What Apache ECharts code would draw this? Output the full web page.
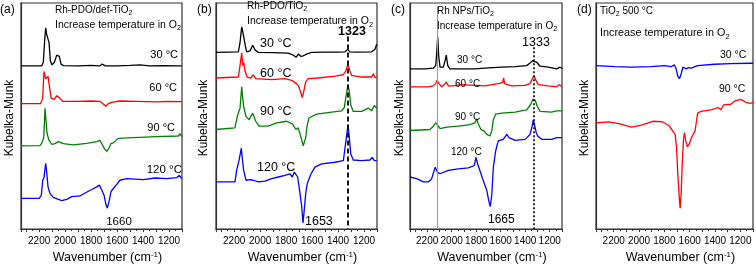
<!DOCTYPE html>
<html><head><meta charset="utf-8">
<script src="https://cdn.jsdelivr.net/npm/echarts@6/dist/echarts.min.js"></script>
<style>html,body{margin:0;padding:0;background:#fff}#c{width:756px;height:269px}</style>
</head><body><div id="c"></div>
<script>
// ---- tick labels ----
const xTickLabels = [2200, 2000, 1800, 1600, 1400, 1200];
const xMin = 1100, xMax = 2340;

// ---- panel (a): Rh-PDO/def-TiO2 ----
const a30 = [[2340,166],[2181,166],[2168,169.7],[2157,193],[2150,204.7],[2142,198],[2132,196.3],[2124,189.7],[2114,171.3],[2101,167],[2083,169.7],[2065,177],[2055,178.7],[2045,175.7],[2032,168],[2014,166.3],[1900,166],[1800,166.5],[1732,166],[1716,168],[1706,167.7],[1691,166],[1600,166],[1500,166.5],[1423,167],[1350,166],[1250,166.3],[1140,166],[1130,168],[1122,166],[1112,167.5],[1102,166]];
const a60 = [[2340,127.7],[2188,127.7],[2173,133],[2163,160.3],[2150,153],[2132,155.3],[2119,143],[2107,133],[2083,132],[2065,135.7],[2055,137.3],[2040,133],[2019,130],[1900,130],[1800,130.3],[1732,130],[1716,128.3],[1708,129.7],[1685,125],[1667,127.7],[1644,129],[1578,130.3],[1450,130],[1300,129.5],[1200,130],[1102,129.7]];
const a90 = [[2340,84.7],[2194,85],[2178,88],[2165,93],[2155,123],[2147,121],[2140,98],[2127,91.3],[2104,86.3],[2078,87],[2053,89],[2014,87],[1937,85.7],[1834,87.3],[1757,89],[1732,90.3],[1716,86.3],[1695,81.3],[1680,79],[1662,82.3],[1647,87],[1629,87.7],[1616,89],[1591,92.3],[1475,93],[1295,94],[1128,94.7],[1115,97],[1102,94]];
const a120 = [[2340,31.3],[2199,31.3],[2183,34.7],[2173,49.7],[2163,52.3],[2150,67],[2142,58],[2132,43],[2117,36.3],[2091,32.3],[2027,29],[1988,30.3],[1949,33],[1886,33.7],[1829,38],[1795,40.3],[1757,43],[1737,44.7],[1718,39.7],[1701,34.7],[1685,24.7],[1675,21.3],[1662,28],[1647,38],[1629,41.3],[1616,39.7],[1598,46.3],[1578,49.7],[1526,51.3],[1398,50.3],[1308,52],[1218,51.3],[1141,52.3],[1121,54.7],[1102,51.3]];

// ---- panel (b): Rh-PDO/TiO2 ----
const b30 = [[2340,179.7],[2168,180.3],[2155,189.7],[2142,205.7],[2132,199.7],[2124,201.3],[2114,186.3],[2104,180.3],[2078,181.3],[2057,187],[2040,182.3],[2014,179.7],[1900,179.5],[1783,179],[1745,177],[1724,174.7],[1706,178],[1685,175.7],[1668,176.3],[1642,178],[1604,179.7],[1500,180],[1400,180],[1346,180.3],[1326,183],[1310,180.3],[1250,180],[1141,180.3],[1116,183],[1102,188]];
const b60 = [[2340,153.7],[2168,154.7],[2155,166.3],[2142,179],[2134,166.3],[2127,169.7],[2117,161.3],[2101,154.7],[2073,153.7],[2053,157],[2034,153],[1911,152],[1809,153],[1757,151.3],[1719,148],[1701,144.7],[1685,138],[1675,133.7],[1665,139.7],[1649,149.7],[1629,153],[1552,153.7],[1423,155.7],[1359,157],[1339,161.3],[1323,168],[1310,161.3],[1295,156.3],[1218,154.7],[1141,154.7],[1128,158],[1115,154],[1102,154.7]];
const b90 = [[2340,101.3],[2194,103],[2173,116.3],[2155,123],[2147,136.3],[2142,144.7],[2134,133],[2127,124.7],[2109,114.7],[2086,111.3],[2057,118],[2034,109.7],[2009,104.7],[1937,104.7],[1873,108],[1796,109.7],[1752,107],[1724,101.3],[1706,103],[1685,93],[1668,84.7],[1649,93],[1639,104.7],[1624,113],[1565,117],[1449,119],[1372,120.3],[1352,123.7],[1339,134.7],[1323,147],[1313,139.7],[1302,126.3],[1283,119.7],[1218,119.7],[1167,123],[1141,120.3],[1121,125.7],[1102,123]];
const b120 = [[2340,48],[2194,48],[2181,59.7],[2163,69.7],[2153,71.3],[2145,82.3],[2137,71.3],[2127,59.7],[2109,49.7],[2078,50.3],[2053,49.7],[2014,48],[1963,48.7],[1911,51.3],[1860,53],[1809,54.7],[1770,56.3],[1752,53],[1737,58],[1726,59.7],[1711,53],[1693,36.3],[1680,23],[1670,6.3],[1660,19.7],[1649,36.3],[1637,46.3],[1624,48],[1608,56.3],[1578,63],[1526,66.3],[1423,68],[1359,69.7],[1346,83],[1333,96.3],[1323,106],[1313,93],[1302,76.3],[1283,70.3],[1218,69.7],[1154,70.3],[1136,73],[1121,69.7],[1102,69.7]];

// ---- panel (c): Rh NPs/TiO2 ----
const c30 = [[2340,163],[2218,163],[2150,163.7],[2130,166.3],[2122,179.7],[2114,195.7],[2106,176.3],[2095,164.7],[2068,164.7],[2054,171.3],[2044,177],[2032,166.3],[2014,163],[1810,163],[1701,164],[1592,164.7],[1483,165.3],[1388,166.3],[1361,169],[1339,171.3],[1326,173],[1306,169.7],[1279,165.7],[1212,164.7],[1143,163],[1116,164.7],[1100,163.5]];
const c60 = [[2340,144.7],[2191,144.7],[2150,145.7],[2130,148],[2120,151.3],[2103,148],[2081,144.7],[2060,147],[2044,149.7],[2027,145.7],[1987,145.7],[1918,147],[1810,146.3],[1728,145.7],[1620,148],[1584,149],[1576,153.7],[1568,148],[1510,145.7],[1402,146.3],[1361,148],[1342,153],[1328,155.7],[1312,151.3],[1293,147],[1212,145.7],[1143,144.7],[1124,147],[1100,144.7]];
const c90 = [[2340,100.3],[2177,101.3],[2150,104.7],[2130,108],[2114,105.7],[2095,102.3],[2041,103.7],[1946,104.7],[1851,106.3],[1810,108],[1796,112],[1783,107],[1761,101.3],[1734,99.7],[1714,96.3],[1687,94.7],[1673,99.7],[1660,111.3],[1641,117],[1592,118],[1483,119],[1388,121.3],[1355,127],[1337,132],[1320,131.3],[1301,124.7],[1279,119.7],[1184,119],[1143,120.3],[1100,120.3]];
const c120 = [[2340,53],[2286,51.3],[2231,48],[2191,48],[2163,51.3],[2147,58],[2134,63],[2117,58],[2095,56.3],[2027,59.7],[1946,61.3],[1864,62.3],[1815,64.7],[1802,73],[1788,66.3],[1761,56.3],[1734,46.3],[1714,39.7],[1696,28],[1685,23],[1673,34.7],[1660,63],[1641,79.7],[1620,89.7],[1579,91.3],[1551,96.3],[1532,93],[1483,90.3],[1402,91.3],[1361,96.3],[1345,104],[1334,111],[1324,106],[1310,98],[1298,94.7],[1266,91.3],[1184,91.3],[1143,93],[1100,93]];

// ---- panel (d): TiO2 500 °C ----
const d30 = [[2340,166.3],[2191,165.3],[2060,164.7],[1903,165.3],[1798,166.3],[1746,165.3],[1720,167],[1707,163],[1694,155.7],[1681,153],[1667,158],[1654,164.7],[1641,163],[1628,163],[1610,164.3],[1589,163.7],[1537,166.3],[1406,167.7],[1275,168.3],[1118,168.7],[1100,168.7]];
const d90 = [[2340,108],[2243,109],[2152,107],[2060,103.7],[1981,105.7],[1890,109.7],[1812,109],[1767,105.7],[1741,101.3],[1733,101.3],[1715,96.3],[1704,83],[1694,56.3],[1683,33],[1675,21.3],[1667,36.3],[1660,63],[1649,91.3],[1641,98],[1631,89.7],[1618,83.7],[1602,87],[1584,93.7],[1558,99.7],[1537,118],[1511,119.7],[1432,121.3],[1375,123.7],[1354,121.3],[1333,126.3],[1275,127],[1244,130.3],[1197,132],[1157,129],[1118,128],[1100,129]];

// ---- reference lines ----
const bPeakLine = 1323;
const cPeakLine = 1333;
const cGrayLine = 2114;

const FF = '"Liberation Sans", Arial, Helvetica, sans-serif';
const grids = [
  {left: 21, top: 3, width: 161, height: 230},
  {left: 216, top: 3, width: 161, height: 230},
  {left: 410, top: 3, width: 152, height: 230},
  {left: 596, top: 3, width: 158, height: 230}
];
const xAxes = grids.map((g, i) => ({
  gridIndex: i, type: 'value', inverse: true, min: xMin, max: xMax, interval: 100,
  name: 'Wavenumber (cm{sup|-1})', nameLocation: 'middle', nameGap: 19,
  nameTextStyle: {fontFamily: FF, fontSize: 12.5, color: '#000', padding: [0, 0, 0, 12],
    rich: {sup: {fontFamily: FF, fontSize: 8, lineHeight: 7, verticalAlign: 'top', color: '#000'}}},
  axisLine: {show: true, lineStyle: {color: '#333', width: 1.2}},
  axisTick: {show: true, inside: false, length: 3, lineStyle: {color: '#333'}},
  minorTick: {show: true, splitNumber: 2, length: 2, lineStyle: {color: '#333'}},
  splitLine: {show: false}, minorSplitLine: {show: false},
  axisLabel: {fontFamily: FF, fontSize: 10, color: '#000', margin: 7,
    formatter: v => xTickLabels.indexOf(v) >= 0 ? String(v) : ''}
}));
const yAxes = grids.map((g, i) => ({
  gridIndex: i, type: 'value', min: 0, max: 230,
  axisLine: {show: true, lineStyle: {color: '#333', width: 1.2}},
  axisTick: {show: false}, axisLabel: {show: false}, splitLine: {show: false}
}));

function line(gi, data, color, extra) {
  return Object.assign({type: 'line', xAxisIndex: gi, yAxisIndex: gi, data: data,
    showSymbol: false, symbol: 'none', animation: false, silent: true,
    lineStyle: {color: color, width: 1.3}, z: 3}, extra || {});
}
function vline(x, y0, y1, style) {
  return {silent: true, symbol: ['none', 'none'], label: {show: false}, animation: false,
    lineStyle: style, data: [[{coord: [x, y0]}, {coord: [x, y1]}]]};
}

const series = [
  line(0, a30, '#000000'), line(0, a60, '#ff0000'), line(0, a90, '#008000'), line(0, a120, '#0000ff'),
  line(1, b30, '#000000', {markLine: vline(bPeakLine, 196, 0, {color: '#000', type: [5, 3], width: 1.8})}),
  line(1, b60, '#ff0000'), line(1, b90, '#008000'), line(1, b120, '#0000ff'),
  line(2, c30, '#000000', {markLine: vline(cPeakLine, 185, 0, {color: '#000', type: [2, 2], width: 1.6})}),
  line(2, c60, '#ff0000', {markLine: vline(cGrayLine, 226, 0, {color: '#999', type: 'solid', width: 1})}),
  line(2, c90, '#008000'), line(2, c120, '#0000ff'),
  line(3, d30, '#0000ff'), line(3, d90, '#ff0000')
];

function T(x, y, text, size, align, bold, rot) {
  return {type: 'text', x: x, y: y, z: 10, silent: true, rotation: rot || 0,
    style: {text: text, fontFamily: FF, fontSize: size, fontWeight: bold ? 'bold' : 'normal',
      fill: '#000', align: align || 'left', textAlign: align || 'left',
      verticalAlign: 'middle', textVerticalAlign: 'middle', lineHeight: size * 1.3,
      rich: {s: {fontFamily: FF, fontSize: size * 0.7, lineHeight: size * 0.6, verticalAlign: 'bottom', fill: '#000'}}}};
}
const graphics = [
  T(0, 10, '(a)', 12), T(197, 10, '(b)', 12), T(391, 10, '(c)', 12), T(577, 10, '(d)', 12),
  T(9.5, 118, 'Kubelka-Munk', 12, 'center', false, Math.PI / 2),
  T(204, 118, 'Kubelka-Munk', 12, 'center', false, Math.PI / 2),
  T(400, 118, 'Kubelka-Munk', 12, 'center', false, Math.PI / 2),
  T(585, 118, 'Kubelka-Munk', 12, 'center', false, Math.PI / 2),
  // (a)
  T(55, 10, 'Rh-PDO/def-TiO{s|2}', 10), T(55, 25, 'Increase temperature in O{s|2}', 10.5),
  T(178, 55, '30 °C', 11, 'right'), T(177, 88, '60 °C', 11, 'right'), T(175, 128, '90 °C', 11, 'right'),
  T(182, 170, '120 °C', 11.5, 'right'), T(119, 222, '1660', 11.5, 'center'),
  // (b)
  T(247, 6.5, 'Rh-PDO/TiO{s|2}', 10), T(247, 21.5, 'Increase temperature in O{s|2}', 10.5),
  T(352, 32, '1323', 12.5, 'center', true),
  T(260, 43.5, '30 °C', 12.5), T(260, 73.5, '60 °C', 12.5), T(260, 111.5, '90 °C', 12.5),
  T(257, 167.5, '120 °C', 12.5), T(305, 222, '1653', 12.5),
  // (c)
  T(437, 11.5, 'Rh NPs/TiO{s|2}', 10), T(437, 26.5, 'Increase temperature in O{s|2}', 10),
  T(536, 42.5, '1333', 12.5, 'center'),
  T(457, 60, '30 °C', 10), T(455, 84, '60 °C', 10), T(455, 117.5, '90 °C', 10),
  T(451, 152.5, '120 °C', 10), T(488, 220, '1665', 12),
  // (d)
  T(600, 11.5, 'TiO{s|2} 500 °C', 10), T(600, 33.5, 'Increase temperature in O{s|2}', 10.8),
  T(720, 55, '30 °C', 10.5), T(719, 89.5, '90 °C', 10.5)
];

const chart = echarts.init(document.getElementById('c'), null, {renderer: 'canvas'});
chart.setOption({
  animation: false,
  backgroundColor: '#fff',
  grid: grids.map(g => Object.assign({show: true, borderColor: '#333', borderWidth: 1.2, backgroundColor: 'transparent'}, g)),
  xAxis: xAxes, yAxis: yAxes, series: series, graphic: graphics
});
</script></body></html>
